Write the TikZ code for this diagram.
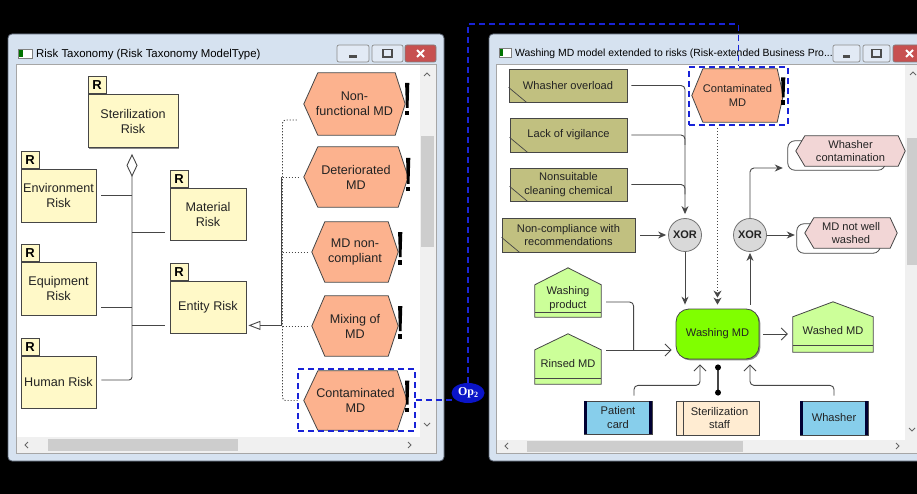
\documentclass[tikz,border=0pt]{standalone}
\usepackage{fontspec}
\setmainfont{Liberation Sans}
\newfontfamily\opserif{Liberation Serif}
\usetikzlibrary{arrows.meta,calc,shapes.geometric,shadows}
\definecolor{framecol}{RGB}{214,226,240}
\definecolor{frameedge}{RGB}{90,100,115}
\definecolor{scrollbg}{RGB}{240,240,240}
\definecolor{thumbc}{RGB}{205,205,205}
\definecolor{riskyel}{RGB}{255,249,200}
\definecolor{salmon}{RGB}{252,178,142}
\definecolor{olivec}{RGB}{193,192,128}
\definecolor{pinkish}{RGB}{242,214,214}
\definecolor{xorgray}{RGB}{217,217,217}
\definecolor{funcgreen}{RGB}{128,255,0}
\definecolor{lgreen}{RGB}{204,255,153}
\definecolor{sysblue}{RGB}{135,206,235}
\definecolor{beigec}{RGB}{255,236,210}
\definecolor{dashblue}{RGB}{25,35,215}
\definecolor{opblue}{RGB}{10,20,200}
\definecolor{edgec}{RGB}{70,70,70}
\definecolor{txt}{RGB}{35,35,35}
\definecolor{btnfill}{RGB}{226,234,245}
\definecolor{closered}{RGB}{199,80,80}
\pgfdeclarelayer{bg}
\pgfdeclarelayer{mid}
\pgfsetlayers{bg,mid,main}
\newcommand\hexat[4]{\draw[#4] (#1.west) -- ($(#1.north west)+(#2,0)$) -- ($(#1.north east)+(-#3,0)$) -- (#1.east) -- ($(#1.south east)+(-#3,0)$) -- ($(#1.south west)+(#2,0)$) -- cycle;}
\newcommand\riskmark[4]{\fill[black] ($(#1.east)+(#2-2.1,-#3)$) -- ($(#1.east)+(#2+2.1,-#3)$) -- ($(#1.east)+(#2+1.3,#4)$) -- ($(#1.east)+(#2-1.3,#4)$) -- cycle;
  \fill[black] ($(#1.east)+(#2-1.8,#4+3)$) rectangle ($(#1.east)+(#2+1.8,#4+7.5)$);}
\newcommand\house[3]{\draw[housefill] (#1.north west) -- ($(#1.north)+(0,-#2)$) -- (#1.north east) -- ($(#1.south east)+(0,#3)$) -- ($(#1.south west)+(0,#3)$) -- cycle;
  \draw[edgec, line width=0.8] (#1.south west) -- (#1.south east);}
\begin{document}
\begin{tikzpicture}[x=1pt,y=-1pt,
  lfont/.style={font=\fontsize{12.6}{15}\selectfont},
  rfont/.style={font=\fontsize{11.1}{13.5}\selectfont},
  shad/.style={drop shadow={shadow xshift=1.4pt,shadow yshift=-1.4pt,fill=black!45,opacity=1}},
  rbox/.style={draw=edgec, fill=riskyel, line width=0.8, minimum width=75, minimum height=53, align=center, inner sep=1, lfont, text=txt, shad},
  rtab/.style={draw=edgec, fill=riskyel, line width=0.8, minimum width=18, minimum height=17, inner sep=0, font=\fontsize{13}{13}\selectfont\bfseries, anchor=south west},
  hexnode/.style={rectangle, inner sep=0, align=center, lfont, text=txt},
  hexnodeR/.style={rectangle, inner sep=0, align=center, rfont, text=txt},
  hexfill/.style={draw=edgec, fill=salmon, line width=0.8},
  pinkfill/.style={draw=edgec, fill=pinkish, line width=0.8},
  housefill/.style={draw=edgec, fill=lgreen, line width=0.8},
  olivebox/.style={draw=edgec, fill=olivec, line width=0.8, align=center, inner sep=1, rfont, text=txt, shad},
  sysbox/.style={draw=edgec, fill=sysblue, line width=0.8, align=center, inner sep=1, rfont, text=txt, shad},
  housenode/.style={rectangle, inner sep=0, align=center, rfont, text=txt},
  xorstyle/.style={circle, draw=black!55, fill=xorgray, line width=0.8, minimum size=33, inner sep=0, font=\fontsize{11}{11}\selectfont\bfseries, text=txt},
  dashbox/.style={draw=dashblue, line width=1.6, dash pattern=on 6pt off 4pt, inner sep=0},
  bluedash/.style={draw=dashblue, line width=1.6, dash pattern=on 6pt off 4pt},
  assoc/.style={draw=edgec, line width=0.9},
  dotline/.style={draw=edgec, line width=0.9, dash pattern=on 1.2pt off 1.8pt},
  flow/.style={draw=edgec, line width=0.9, -{Stealth[length=8pt,width=7pt]}},
  plainline/.style={draw=edgec, line width=0.9},
  info/.style={draw=edgec, line width=0.9, -{Straight Barb[length=6pt,width=12pt]}},
  btn/.style={draw=black!45, fill=btnfill, rounded corners=2, line width=0.7},
  closebtn/.style={draw=black!50, fill=closered, rounded corners=2, line width=0.7},
  chev/.style={draw=black!60, line width=1},
  opnode/.style={ellipse, fill=opblue, minimum width=33, minimum height=20, inner xsep=-2pt, inner ysep=0, text=white, font=\opserif\bfseries\fontsize{12}{12}\selectfont}
]
\useasboundingbox (0,0) rectangle (917,494);
\begin{pgfonlayer}{bg}
\fill[black] (0,0) rectangle (917,494);
% left window
\draw[fill=framecol, draw=frameedge, rounded corners=4, line width=0.8] (8,34) rectangle (444,461);
\fill[white] (17,65) rectangle (436,453);
\draw[black!35, line width=0.6] (16.5,64.5) rectangle (436.5,453.5);
\fill[scrollbg] (420,65) rectangle (436,437);
\fill[thumbc] (421,136) rectangle (434,247);
\fill[scrollbg] (17,437) rectangle (436,453);
\fill[thumbc] (48,439) rectangle (238,451);
\draw[chev] (424,76) -- (427,73) -- (430,76);
\draw[chev] (424,423) -- (427,426) -- (430,423);
\draw[chev] (28,442) -- (25,445) -- (28,448);
\draw[chev] (408,442) -- (411,445) -- (408,448);
\fill[white] (18,49) rectangle (32,58);
\draw[black!50, line width=0.5] (18,49) rectangle (32,58);
\fill[green!45!black] (19,50) rectangle (23,57.5);
\node[font=\fontsize{11.4}{12}\selectfont, anchor=west, inner sep=0] (ltitle) at (36,54.5) {Risk Taxonomy (Risk Taxonomy ModelType)};
\draw[btn] (337,45) rectangle (369,62); \fill[black!70] (349,55) rectangle (357,58);
\draw[btn] (372,45) rectangle (403,62); \draw[black!70, line width=1.2] (383,49.5) rectangle (392,57);
\draw[closebtn] (405,45) rectangle (436,62); \draw[white, line width=2] (417,50)--(424,57) (417,57)--(424,50);
% right window
\draw[fill=framecol, draw=frameedge, rounded corners=4, line width=0.8] (489,34) rectangle (935,461);
\fill[white] (497,65) rectangle (917,453);
\draw[black!35, line width=0.6] (496.5,64.5) rectangle (930,453.5);
\fill[scrollbg] (905,65) rectangle (917,440);
\fill[thumbc] (907,138) rectangle (917,265);
\fill[scrollbg] (497,440) rectangle (917,453);
\fill[thumbc] (527,441) rectangle (743,452);
\draw[chev] (910,75) -- (913,72) -- (916,75);
\draw[chev] (909,428) -- (912,431) -- (915,428);
\draw[chev] (508,443) -- (505,446) -- (508,449);
\draw[chev] (896,443) -- (899,446) -- (896,449);
\fill[white] (499,48) rectangle (511,57);
\draw[black!50, line width=0.5] (499,48) rectangle (511,57);
\fill[green!45!black] (500,49) rectangle (503,56.5);
\node[font=\fontsize{10.4}{12}\selectfont, anchor=west, inner sep=0] (rtitle) at (515,53.5) {Washing MD model extended to risks (Risk-extended Business Pro...};
\draw[btn] (833,45) rectangle (860,62); \fill[black!70] (843,55) rectangle (850,58);
\draw[btn] (863,45) rectangle (890,62); \draw[black!70, line width=1.2] (872,49.5) rectangle (881,57);
\draw[closebtn] (893,45) rectangle (925,62); \draw[white, line width=2] (906,50)--(913,57) (906,57)--(913,50);
\end{pgfonlayer}

% ---------- left diagram ----------
\node[rbox, minimum width=90] (ster) at (133,121) {Sterilization\\Risk};
\node[rtab] (sterR) at (ster.north west) {R};
\node[rbox] (env) at (58.5,195.5) {Environment\\Risk};
\node[rtab] (envR) at (env.north west) {R};
\node[rbox, minimum width=76, minimum height=52] (mat) at (208,214) {Material\\Risk};
\node[rtab] (matR) at (mat.north west) {R};
\node[rbox] (equ) at (58.5,288.5) {Equipment\\Risk};
\node[rtab] (equR) at (equ.north west) {R};
\node[rbox, minimum width=76, minimum height=52] (ent) at (208,307) {Entity Risk};
\node[rtab] (entR) at (ent.north west) {R};
\node[rbox, minimum height=52] (hum) at (58.5,382) {Human Risk};
\node[rtab] (humR) at (hum.north west) {R};

\node[hexnode, minimum width=101, minimum height=62] (h1) at (354.5,104) {Non-\\functional MD};
\node[hexnode, minimum width=104, minimum height=60] (h2) at (356,177) {Deteriorated\\MD};
\node[hexnode, minimum width=86, minimum height=60] (h3) at (355,252) {MD non-\\compliant};
\node[hexnode, minimum width=86, minimum height=60] (h4) at (355,326) {Mixing of\\MD};
\node[hexnode, minimum width=103, minimum height=59] (h5) at (355.5,400.5) {Contaminated\\MD};
\begin{pgfonlayer}{mid}
\hexat{h1}{14}{10}{hexfill}
\hexat{h2}{14}{10}{hexfill}
\hexat{h3}{13}{10}{hexfill}
\hexat{h4}{13}{10}{hexfill}
\hexat{h5}{14}{10}{hexfill}
\end{pgfonlayer}
\riskmark{h1}{2}{21}{4}
\riskmark{h2}{0}{19}{7}
\riskmark{h3}{2}{20}{5}
\riskmark{h4}{2}{20}{5}
\riskmark{h5}{0}{20}{4}

\coordinate (tk) at (132,0);
\coordinate (gt) at (281.5,0);
\draw[assoc, rounded corners=3, -{Diamond[open,length=23pt,width=11pt]}] ($(hum.east)+(5,-2)$) -| ($(ster.south)+(-1,6)$);
\draw[assoc] ($(env.east)+(5,0)$) -- (tk |- env.east);
\draw[assoc] ($(mat.south west)+(-5,-8)$) -- ($(tk |- mat.south)+(0,-8)$);
\draw[assoc] ($(equ.south east)+(5,-8)$) -- ($(tk |- equ.south)+(0,-8)$);
\draw[assoc] ($(ent.south west)+(-5,-8)$) -- ($(tk |- ent.south)+(0,-8)$);
\draw[assoc, -{Triangle[open,length=12pt,width=9pt]}] ($(gt |- ent.south)+(0,-8)$) -- ($(ent.south east)+(2,-8)$);
\draw[assoc] (gt |- h2.west) -- ($(gt |- ent.south)+(0,-8)$);
\draw[dotline, rounded corners=3] ($(h1.west)+(-7,16)$) -| ($(gt |- h5.west)+(1,0)$) -- ($(h5.west)+(-5,0)$);
\draw[dotline] ($(gt |- h2.west)+(1,0)$) -- ($(h2.west)+(-5,0)$);
\draw[dotline] ($(gt |- h3.west)+(1,0)$) -- ($(h3.west)+(-5,0)$);
\draw[dotline] ($(gt |- h4.west)+(1,0)$) -- ($(h4.west)+(-5,0)$);

% ---------- right diagram ----------
\node[olivebox, minimum width=118, minimum height=33] (wo) at (568,85.5) {Whasher overload};
\node[olivebox, minimum width=117, minimum height=34] (lv) at (568.5,135) {Lack of vigilance};
\node[olivebox, minimum width=117, minimum height=33] (ns) at (568.5,184.5) {Nonsuitable\\cleaning chemical};
\node[olivebox, minimum width=133, minimum height=34] (nc) at (568.5,235) {Non-compliance with\\recommendations};
\foreach \n in {wo,lv,ns,nc}{\draw[edgec, line width=0.7] ($(\n.south west)+(0,-15)$) -- ($(\n.south west)+(18,0)$);}

\node[hexnodeR, minimum width=91, minimum height=53] (cr) at (737.5,95.5) {Contaminated\\MD};
\begin{pgfonlayer}{mid}
\hexat{cr}{11}{6}{hexfill}
\end{pgfonlayer}
\riskmark{cr}{0}{18}{2}

\node[dashbox, minimum width=117, minimum height=62] (bl) at (356.5,400) {};
\node[dashbox, minimum width=99, minimum height=58] (br) at (738.5,96) {};

\node[xorstyle] (x1) at (685,235) {XOR};
\node[xorstyle] (x2) at (750,235) {XOR};

\node[rectangle, inner sep=0, minimum width=97, minimum height=29] (wcb) at (836.5,155.5) {};
\node[hexnodeR, minimum width=109, minimum height=30] (wc) at (850.5,151) {Whasher\\contamination};
\node[rectangle, inner sep=0, minimum width=83, minimum height=29] (mdb) at (838.5,238.5) {};
\node[hexnodeR, minimum width=92, minimum height=30] (md) at (851,233) {MD not well\\washed};
\begin{pgfonlayer}{mid}
\draw[edgec, fill=white, line width=0.8, rounded corners=7] (wcb.north west) rectangle (wcb.south east);
\hexat{wc}{9}{7}{pinkfill}
\draw[edgec, fill=white, line width=0.8, rounded corners=7] (mdb.north west) rectangle (mdb.south east);
\hexat{md}{9}{7}{pinkfill}
\end{pgfonlayer}

\node[draw=edgec, fill=funcgreen, line width=0.8, rounded corners=13, minimum width=83, minimum height=50, rfont, text=txt, shad] (wash) at (717.5,334) {Washing MD};

\node[housenode, minimum width=66, minimum height=27] (wp) at (568,298.5) {Washing\\product};
\node[housenode, minimum width=66, minimum height=28] (rm) at (568,364) {Rinsed MD};
\node[housenode, minimum width=80, minimum height=28] (wm) at (833,331) {Washed MD};
\begin{pgfonlayer}{mid}
\house{wp}{17}{5}
\house{rm}{16}{6}
\house{wm}{15}{7}
\end{pgfonlayer}

\node[sysbox, minimum width=68, minimum height=33] (pc) at (618,417.5) {Patient\\card};
\node[draw=edgec, fill=beigec, line width=0.8, align=center, inner sep=1, rfont, text=txt, minimum width=83, minimum height=34, shad] (ss) at (717.5,418) {\hspace{4pt}Sterilization\\\hspace{4pt}staff};
\node[sysbox, minimum width=68, minimum height=34] (wh) at (834,418) {Whasher};
\foreach \n in {pc,wh}{
  \fill[black!80!blue] (\n.north west) rectangle ($(\n.south west)+(3.5,0)$);
  \fill[black!80!blue] ($(\n.north east)+(-3.5,0)$) rectangle (\n.south east);}
\draw[edgec, line width=0.8] ($(ss.north west)+(8,0)$) -- ($(ss.south west)+(8,0)$);

% connectors right
\draw[flow, rounded corners=4] ($(wo.east)+(4,0)$) -| ($(x1.north)+(0,-4)$);
\draw[plainline, rounded corners=4] ($(lv.east)+(4,0)$) -| ($(x1.north |- lv.east)+(0,10)$);
\draw[plainline, rounded corners=4] ($(ns.east)+(4,0)$) -| ($(x1.north |- ns.east)+(0,10)$);
\draw[flow] ($(nc.east)+(5,0)$) -- ($(x1.west)+(-2,0)$);
\draw[flow] (x1.south) -- ($(x1.south |- wash.north)+(0,-4)$);
\draw[flow] ($(x2.south |- wash.north)+(0,-4)$) -- ($(x2.south)+(0,1)$);
\draw[flow, rounded corners=4] (x2.north) |- ($(wcb.west)+(-5,12.5)$);
\draw[flow] (x2.east) -- ($(mdb.west)+(-2,-3.5)$);
\draw[dotline, -{Stealth[length=7pt,width=8pt] Stealth[length=7pt,width=8pt]}] ($(br.south -| wash.north)+(0,2)$) -- ($(wash.north)+(0,-4)$);
\draw[plainline, rounded corners=4] ($(wp.east)+(5,3.5)$) -| ($(wash.west)+(-42,16)$);
\draw[info] ($(rm.east)+(5,-14)$) -- ($(wash.west)+(-4,16)$);
\draw[info] ($(wash.east)+(4,0)$) -- ($(wm.west)+(-5,3)$);
\draw[info, rounded corners=4] ($(pc.north)+(16,-5)$) |- ($(wash.south)+(-17.5,26)$) -- ($(wash.south)+(-17.5,5)$);
\draw[info, rounded corners=4] ($(wh.north)+(0,-5)$) |- ($(wash.south)+(32.5,26)$) -- ($(wash.south)+(32.5,5)$);
\coordinate (s1) at ($(wash.south)+(0.5,8)$);
\coordinate (s2) at ($(ss.north)+(0.5,-8)$);
\draw[edgec, line width=1.1] (s1) -- (s2);
\fill[black] (s1) circle[radius=3];
\fill[black] (s2) circle[radius=3];

% link
\node[opnode] (op) at (468,393) {Op\raisebox{-2pt}{\fontsize{8}{8}\selectfont 2}};
\coordinate (topy) at (0,24);
\draw[bluedash] (bl.east) -- ($(bl.east -| op.west)+(2,0)$);
\draw[bluedash] (op.north) -- (op.north |- topy) -| (br.north);
\end{tikzpicture}
\end{document}
